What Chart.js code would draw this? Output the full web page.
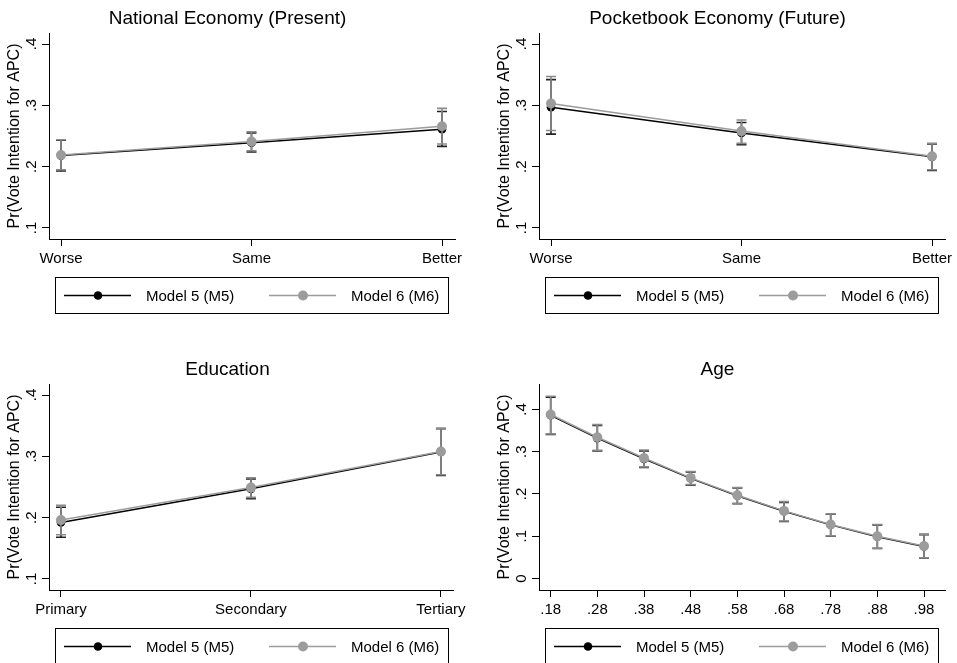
<!DOCTYPE html>
<html>
<head>
<meta charset="utf-8">
<script src="https://cdn.jsdelivr.net/npm/chart.js@4/dist/chart.umd.min.js"></script>
<style>
  html, body { margin: 0; padding: 0; background: #fff; overflow: hidden; }
  body { width: 957px; height: 663px; position: relative; }
  .panel { position: absolute; width: 470px; height: 330px; }
  .panel canvas { display: block; }
</style>
</head>
<body>
<div class="panel" style="left:0px;top:0px"><canvas id="c1" width="470" height="330"></canvas></div>
<div class="panel" style="left:490px;top:0px"><canvas id="c2" width="470" height="330"></canvas></div>
<div class="panel" style="left:0px;top:351px"><canvas id="c3" width="470" height="330"></canvas></div>
<div class="panel" style="left:490px;top:351px"><canvas id="c4" width="470" height="330"></canvas></div>
<script>
// ---- National Economy (Present) ----
const natCategories = ['Worse', 'Same', 'Better'];
const natM5   = [0.218, 0.239, 0.261];
const natM5Lo = [0.193, 0.224, 0.233];
const natM5Hi = [0.243, 0.255, 0.290];
const natM6   = [0.219, 0.241, 0.266];
const natM6Lo = [0.195, 0.226, 0.237];
const natM6Hi = [0.244, 0.257, 0.295];

// ---- Pocketbook Economy (Future) ----
const pocketCategories = ['Worse', 'Same', 'Better'];
const pocketM5   = [0.297, 0.255, 0.216];
const pocketM5Lo = [0.253, 0.236, 0.194];
const pocketM5Hi = [0.342, 0.272, 0.237];
const pocketM6   = [0.303, 0.258, 0.217];
const pocketM6Lo = [0.259, 0.238, 0.195];
const pocketM6Hi = [0.347, 0.276, 0.238];

// ---- Education ----
const eduCategories = ['Primary', 'Secondary', 'Tertiary'];
const eduM5   = [0.192, 0.247, 0.307];
const eduM5Lo = [0.168, 0.231, 0.269];
const eduM5Hi = [0.217, 0.263, 0.345];
const eduM6   = [0.196, 0.249, 0.308];
const eduM6Lo = [0.172, 0.233, 0.270];
const eduM6Hi = [0.220, 0.265, 0.346];

// ---- Age ----
const ageValues = [0.18, 0.28, 0.38, 0.48, 0.58, 0.68, 0.78, 0.88, 0.98];
const ageM5   = [0.386, 0.332, 0.283, 0.237, 0.196, 0.159, 0.127, 0.099, 0.076];
const ageM5Lo = [0.341, 0.302, 0.263, 0.221, 0.177, 0.135, 0.100, 0.071, 0.048];
const ageM5Hi = [0.429, 0.362, 0.302, 0.252, 0.214, 0.180, 0.152, 0.127, 0.104];
const ageM6   = [0.388, 0.334, 0.285, 0.238, 0.197, 0.160, 0.128, 0.100, 0.077];
const ageM6Lo = [0.342, 0.303, 0.264, 0.222, 0.178, 0.136, 0.101, 0.072, 0.049];
const ageM6Hi = [0.431, 0.364, 0.304, 0.253, 0.215, 0.182, 0.153, 0.128, 0.105];

// Axis tick values
const probTicks = [0.1, 0.2, 0.3, 0.4];
const ageProbTicks = [0, 0.1, 0.2, 0.3, 0.4];
const categoryPositions = [1, 2, 3];

const seriesNames = ['Model 5 (M5)', 'Model 6 (M6)'];
const yTitle = 'Pr(Vote Intention for APC)';

const FONT = '"Liberation Sans", Arial, Helvetica, sans-serif';
const M5_COLOR = '#000000';
const M6_COLOR = '#9c9c9c';
const M5_ERR = '#222222';
const M6_ERR = '#8a8a8a';

// Stata-style number labels: .1, .28, 0
function stataNum(v) {
  const s = String(Math.round(v * 1000) / 1000);
  return s.replace(/^0(?=\.)/, '');
}

// Confidence-interval whiskers with caps, drawn under each series' line
const errorBars = {
  id: 'errorBars',
  beforeDatasetDraw(chart, args) {
    const ds = chart.data.datasets[args.index];
    if (!ds.lo) return;
    const xs = chart.scales.x, ys = chart.scales.y, ctx = chart.ctx;
    ctx.save();
    ctx.strokeStyle = ds.errorColor;
    ctx.lineWidth = 1.6;
    ds.data.forEach((p, i) => {
      const px = xs.getPixelForValue(p.x);
      const yl = ys.getPixelForValue(ds.lo[i]);
      const yh = ys.getPixelForValue(ds.hi[i]);
      ctx.beginPath();
      ctx.moveTo(px, yl); ctx.lineTo(px, yh);
      ctx.moveTo(px - 5, yl); ctx.lineTo(px + 5, yl);
      ctx.moveTo(px - 5, yh); ctx.lineTo(px + 5, yh);
      ctx.stroke();
    });
    ctx.restore();
  }
};

// Boxed legend below the plot, one row, line + marker + label per series
const boxLegend = {
  id: 'boxLegend',
  afterDraw(chart) {
    const ctx = chart.ctx;
    const left = 55.5, top = 277.5, right = 448.5, bottom = 313.5, cy = 295.5;
    ctx.save();
    ctx.strokeStyle = '#000';
    ctx.lineWidth = 1;
    ctx.strokeRect(left, top, right - left, bottom - top);
    const items = chart.data.datasets.slice().sort((a, b) => a.legendIndex - b.legendIndex);
    const slots = [64, 269];
    items.forEach((ds, k) => {
      const x0 = slots[k];
      ctx.strokeStyle = ds.borderColor;
      ctx.lineWidth = ds.borderWidth;
      ctx.beginPath();
      ctx.moveTo(x0, cy); ctx.lineTo(x0 + 67, cy);
      ctx.stroke();
      ctx.fillStyle = ds.pointBackgroundColor;
      ctx.beginPath();
      ctx.arc(x0 + 34, cy, ds.pointRadius, 0, Math.PI * 2);
      ctx.fill();
      ctx.fillStyle = '#000';
      ctx.font = '15px ' + FONT;
      ctx.textBaseline = 'middle';
      ctx.textAlign = 'left';
      ctx.fillText(ds.label, x0 + 82, cy + 1);
    });
    ctx.restore();
  }
};

function makeSeries(xs, m5, m5lo, m5hi, m6, m6lo, m6hi) {
  const pts = (vals) => xs.map((x, i) => ({ x: x, y: vals[i] }));
  return [
    {
      label: seriesNames[0], data: pts(m5), lo: m5lo, hi: m5hi,
      borderColor: M5_COLOR, backgroundColor: M5_COLOR, pointBackgroundColor: M5_COLOR,
      pointBorderWidth: 0, pointRadius: 4.3, borderWidth: 1.5, errorColor: M5_ERR,
      order: 1, legendIndex: 0, tension: 0
    },
    {
      label: seriesNames[1], data: pts(m6), lo: m6lo, hi: m6hi,
      borderColor: M6_COLOR, backgroundColor: M6_COLOR, pointBackgroundColor: M6_COLOR,
      pointBorderWidth: 0, pointRadius: 5, borderWidth: 1.5, errorColor: M6_ERR,
      order: 0, legendIndex: 1, tension: 0
    }
  ];
}

function makeChart(id, title, xs, xLabels, xMin, xMax, yTicks, yMin, yMax, series) {
  return new Chart(document.getElementById(id), {
    type: 'line',
    data: { datasets: series },
    plugins: [errorBars, boxLegend],
    options: {
      responsive: false,
      animation: false,
      events: [],
      layout: { autoPadding: false, padding: { left: 0, top: 0, right: 15, bottom: 61 } },
      plugins: {
        legend: { display: false },
        tooltip: { enabled: false },
        title: {
          display: true, text: title, color: '#000',
          font: { family: FONT, size: 19, weight: 'normal', lineHeight: 1.2 },
          padding: { top: 7.6, bottom: 2.6 }
        }
      },
      scales: {
        x: {
          type: 'linear', min: xMin, max: xMax,
          afterBuildTicks: (s) => { s.ticks = xs.map(v => ({ value: v })); },
          afterFit: (s) => { s.height = 30; },
          ticks: {
            autoSkip: false, maxRotation: 0, minRotation: 0, padding: 4, color: '#000',
            font: { family: FONT, size: 15 },
            callback: (v, i) => xLabels[i]
          },
          grid: { drawOnChartArea: false, drawTicks: true, tickLength: 7, color: '#000', lineWidth: 1 },
          border: { display: true, color: '#000', width: 1 }
        },
        y: {
          type: 'linear', min: yMin, max: yMax,
          afterBuildTicks: (s) => { s.ticks = yTicks.map(v => ({ value: v })); },
          afterFit: (s) => { s.width = 49; },
          ticks: {
            minRotation: 90, maxRotation: 90, crossAlign: 'center', padding: 4, color: '#000',
            font: { family: FONT, size: 15 },
            callback: (v) => stataNum(v)
          },
          grid: { drawOnChartArea: false, drawTicks: true, tickLength: 7, color: '#000', lineWidth: 1 },
          border: { display: true, color: '#000', width: 1 },
          title: {
            display: true, text: yTitle, color: '#000',
            font: { family: FONT, size: 16, lineHeight: 1.2 },
            padding: { top: 5.4, bottom: 0 }
          }
        }
      }
    }
  });
}

const catMin = 1 - 12 / 190.5, catMax = 3 + 13 / 190.5;

makeChart('c1', 'National Economy (Present)', categoryPositions, natCategories, catMin, catMax,
  probTicks, 0.082, 0.418,
  makeSeries(categoryPositions, natM5, natM5Lo, natM5Hi, natM6, natM6Lo, natM6Hi));

makeChart('c2', 'Pocketbook Economy (Future)', categoryPositions, pocketCategories, catMin, catMax,
  probTicks, 0.082, 0.418,
  makeSeries(categoryPositions, pocketM5, pocketM5Lo, pocketM5Hi, pocketM6, pocketM6Lo, pocketM6Hi));

makeChart('c3', 'Education', categoryPositions, eduCategories, catMin, catMax,
  probTicks, 0.082, 0.418,
  makeSeries(categoryPositions, eduM5, eduM5Lo, eduM5Hi, eduM6, eduM6Lo, eduM6Hi));

makeChart('c4', 'Age', ageValues, ageValues.map(stataNum), 0.155, 1.025,
  ageProbTicks, -0.027, 0.46,
  makeSeries(ageValues, ageM5, ageM5Lo, ageM5Hi, ageM6, ageM6Lo, ageM6Hi));
</script>
</body>
</html>
